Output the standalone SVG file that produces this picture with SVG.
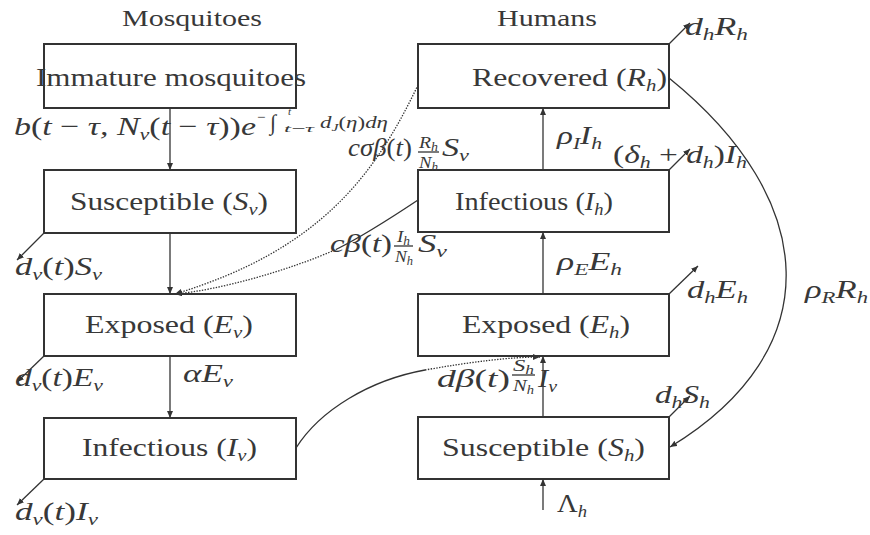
<svg xmlns="http://www.w3.org/2000/svg" width="870" height="535" viewBox="0 0 870 535">
<defs>
<marker id="ah" markerWidth="8" markerHeight="6" refX="7" refY="3" orient="auto" markerUnits="userSpaceOnUse"><path d="M0,0 L7,3 L0,6 z" fill="#333"/></marker>
</defs>
<style>
text{font-family:'Liberation Serif','Times New Roman','DejaVu Serif',serif;fill:#383838}
.box{fill:none;stroke:#333;stroke-width:2}
.lbl{font-size:26px}
.m{font-style:italic;font-size:26px}
.it{font-style:italic}
.r{font-style:normal}
.s{font-size:17px}
.c{fill:none;stroke:#333;stroke-width:1.3}
.dot{stroke-dasharray:1.4 1.4}
</style>
<rect width="870" height="535" fill="#fff"/>

<text class="lbl" x="122" y="26" style="font-size:24px" textLength="140" lengthAdjust="spacingAndGlyphs">Mosquitoes</text>
<text class="lbl" x="497" y="26" style="font-size:24px" textLength="100" lengthAdjust="spacingAndGlyphs">Humans</text>

<g id="immature">
<rect class="box" x="44" y="44" width="252" height="64"/>
<text class="lbl" x="36" y="86" textLength="270" lengthAdjust="spacingAndGlyphs">Immature mosquitoes</text>
</g>
<g id="Sv">
<rect class="box" x="44" y="170" width="252" height="63"/>
<text class="lbl" x="70" y="210" textLength="198" lengthAdjust="spacingAndGlyphs">Susceptible (<tspan class="it">S</tspan><tspan class="it s" dy="5">v</tspan><tspan dy="-5">)</tspan></text>
</g>
<g id="Ev">
<rect class="box" x="44" y="294" width="252" height="62"/>
<text class="lbl" x="85" y="333" textLength="168" lengthAdjust="spacingAndGlyphs">Exposed (<tspan class="it">E</tspan><tspan class="it s" dy="5">v</tspan><tspan dy="-5">)</tspan></text>
</g>
<g id="Iv">
<rect class="box" x="44" y="418" width="252" height="61"/>
<text class="lbl" x="82" y="456" textLength="175" lengthAdjust="spacingAndGlyphs">Infectious (<tspan class="it">I</tspan><tspan class="it s" dy="5">v</tspan><tspan dy="-5">)</tspan></text>
</g>
<g id="Rh">
<rect class="box" x="418" y="44" width="251" height="64"/>
<text class="lbl" x="472" y="86" textLength="195" lengthAdjust="spacingAndGlyphs">Recovered (<tspan class="it">R</tspan><tspan class="it s" dy="5">h</tspan><tspan dy="-5">)</tspan></text>
</g>
<g id="Ih">
<rect class="box" x="418" y="170" width="251" height="62"/>
<text class="lbl" x="455" y="210" textLength="158" lengthAdjust="spacingAndGlyphs">Infectious (<tspan class="it">I</tspan><tspan class="it s" dy="5">h</tspan><tspan dy="-5">)</tspan></text>
</g>
<g id="Eh">
<rect class="box" x="418" y="294" width="251" height="62"/>
<text class="lbl" x="462" y="333" textLength="168" lengthAdjust="spacingAndGlyphs">Exposed (<tspan class="it">E</tspan><tspan class="it s" dy="5">h</tspan><tspan dy="-5">)</tspan></text>
</g>
<g id="Sh">
<rect class="box" x="418" y="417" width="251" height="62"/>
<text class="lbl" x="442" y="456" textLength="203" lengthAdjust="spacingAndGlyphs">Susceptible (<tspan class="it">S</tspan><tspan class="it s" dy="5">h</tspan><tspan dy="-5">)</tspan></text>
</g>

<g id="connectors">
<path class="c" marker-end="url(#ah)" d="M170,108 V170"/>
<path class="c" marker-end="url(#ah)" d="M170,233 V294"/>
<path class="c" marker-end="url(#ah)" d="M170,356 V418"/>
<path class="c" marker-end="url(#ah)" d="M543,417 V356"/>
<path class="c" marker-end="url(#ah)" d="M543,294 V232"/>
<path class="c" marker-end="url(#ah)" d="M543,170 V108"/>
<path class="c" marker-end="url(#ah)" d="M543,510 V479"/>
<path class="c" marker-end="url(#ah)" d="M44,233 L17,260"/>
<path class="c" marker-end="url(#ah)" d="M44,356 L17,382"/>
<path class="c" marker-end="url(#ah)" d="M44,479 L17,505"/>
<path class="c" marker-end="url(#ah)" d="M669,44 L690,23"/>
<path class="c" marker-end="url(#ah)" d="M669,170 L690,149"/>
<path class="c" marker-end="url(#ah)" d="M669,294 L698,266"/>
<path class="c" marker-end="url(#ah)" d="M669,417 L690,396"/>
<path class="c" marker-end="url(#ah)" d="M669,78 C820,200 830,350 670,447"/>
<path class="c dot" marker-end="url(#ah)" d="M418,85 C375,175 320,250 175,294"/>
<path class="c" d="M418,200 C400,212 365,235 337,249"/>
<path class="c dot" marker-end="url(#ah)" d="M337,249 C290,270 220,290 175,294"/>
<path class="c" d="M296,448 C320,410 370,380 425,370"/>
<path class="c dot" marker-end="url(#ah)" d="M425,370 C470,362 510,357 540,357"/>
</g>

<g id="labels">
<text class="m" x="14" y="135" textLength="242" lengthAdjust="spacingAndGlyphs">b<tspan class="r">(</tspan>t <tspan class="r">−</tspan> τ, N<tspan class="s" dy="5">v</tspan><tspan class="r" dy="-5">(</tspan>t <tspan class="r">−</tspan> τ<tspan class="r">))</tspan>e</text>
<text class="m r" x="257" y="122" style="font-size:15px">−</text>
<text class="m r" x="270" y="130" style="font-size:22px">∫</text>
<text class="m" x="288" y="115" style="font-size:11px">t</text>
<text class="m" x="284" y="132" style="font-size:11px" textLength="30" lengthAdjust="spacingAndGlyphs">t<tspan class="r">−</tspan>τ</text>
<text class="m" x="320" y="128" style="font-size:16px" textLength="68" lengthAdjust="spacingAndGlyphs">d<tspan style="font-size:11px" dy="3">J</tspan><tspan class="r" dy="-3">(</tspan>η<tspan class="r">)</tspan>dη</text>

<text class="m" x="348" y="156" textLength="64" lengthAdjust="spacingAndGlyphs">cσβ<tspan class="r">(</tspan>t<tspan class="r">)</tspan></text>
<text class="m" x="419" y="148" style="font-size:17px" textLength="19" lengthAdjust="spacingAndGlyphs">R<tspan style="font-size:12px" dy="3">h</tspan></text>
<path class="c" d="M418,152 H439"/>
<text class="m" x="419" y="168" style="font-size:17px" textLength="19" lengthAdjust="spacingAndGlyphs">N<tspan style="font-size:12px" dy="3">h</tspan></text>
<text class="m" x="442" y="156" textLength="27" lengthAdjust="spacingAndGlyphs">S<tspan class="s" dy="5">v</tspan></text>

<text class="m" x="330" y="252" textLength="62" lengthAdjust="spacingAndGlyphs">cβ<tspan class="r">(</tspan>t<tspan class="r">)</tspan></text>
<text class="m" x="397" y="242" style="font-size:17px" textLength="13" lengthAdjust="spacingAndGlyphs">I<tspan style="font-size:12px" dy="3">h</tspan></text>
<path class="c" d="M394,246 H413"/>
<text class="m" x="395" y="262" style="font-size:17px" textLength="18" lengthAdjust="spacingAndGlyphs">N<tspan style="font-size:12px" dy="3">h</tspan></text>
<text class="m" x="418" y="252" textLength="29" lengthAdjust="spacingAndGlyphs">S<tspan class="s" dy="5">v</tspan></text>

<text class="m" x="437" y="387" textLength="73" lengthAdjust="spacingAndGlyphs">dβ<tspan class="r">(</tspan>t<tspan class="r">)</tspan></text>
<text class="m" x="513" y="371" style="font-size:17px" textLength="21" lengthAdjust="spacingAndGlyphs">S<tspan style="font-size:12px" dy="3">h</tspan></text>
<path class="c" d="M512,375 H535"/>
<text class="m" x="513" y="391" style="font-size:17px" textLength="21" lengthAdjust="spacingAndGlyphs">N<tspan style="font-size:12px" dy="3">h</tspan></text>
<text class="m" x="538" y="387" textLength="19" lengthAdjust="spacingAndGlyphs">I<tspan class="s" dy="5">v</tspan></text>

<text class="m" x="557" y="144" textLength="45" lengthAdjust="spacingAndGlyphs">ρ<tspan class="s" dy="5">I</tspan><tspan dy="-5">I</tspan><tspan class="s" dy="5">h</tspan></text>
<text class="m" x="613" y="163" textLength="134" lengthAdjust="spacingAndGlyphs"><tspan class="r">(</tspan>δ<tspan class="s" dy="5">h</tspan><tspan class="r" dy="-5"> + </tspan>d<tspan class="s" dy="5">h</tspan><tspan class="r" dy="-5">)</tspan>I<tspan class="s" dy="5">h</tspan></text>
<text class="m" x="685" y="35" textLength="63" lengthAdjust="spacingAndGlyphs">d<tspan class="s" dy="5">h</tspan><tspan dy="-5">R</tspan><tspan class="s" dy="5">h</tspan></text>
<text class="m" x="557" y="270" textLength="65" lengthAdjust="spacingAndGlyphs">ρ<tspan class="s" dy="5">E</tspan><tspan dy="-5">E</tspan><tspan class="s" dy="5">h</tspan></text>
<text class="m" x="687" y="298" textLength="61" lengthAdjust="spacingAndGlyphs">d<tspan class="s" dy="5">h</tspan><tspan dy="-5">E</tspan><tspan class="s" dy="5">h</tspan></text>
<text class="m" x="805" y="298" textLength="63" lengthAdjust="spacingAndGlyphs">ρ<tspan class="s" dy="5">R</tspan><tspan dy="-5">R</tspan><tspan class="s" dy="5">h</tspan></text>
<text class="m" x="183" y="382" textLength="50" lengthAdjust="spacingAndGlyphs">αE<tspan class="s" dy="5">v</tspan></text>
<text class="m" x="655" y="403" textLength="55" lengthAdjust="spacingAndGlyphs">d<tspan class="s" dy="5">h</tspan><tspan dy="-5">S</tspan><tspan class="s" dy="5">h</tspan></text>
<text class="m r" x="557" y="512" textLength="30" lengthAdjust="spacingAndGlyphs">Λ<tspan class="s it" dy="5">h</tspan></text>
<text class="m" x="15" y="275" textLength="87" lengthAdjust="spacingAndGlyphs">d<tspan class="s" dy="5">v</tspan><tspan class="r" dy="-5">(</tspan>t<tspan class="r">)</tspan>S<tspan class="s" dy="5">v</tspan></text>
<text class="m" x="15" y="386" textLength="88" lengthAdjust="spacingAndGlyphs">d<tspan class="s" dy="5">v</tspan><tspan class="r" dy="-5">(</tspan>t<tspan class="r">)</tspan>E<tspan class="s" dy="5">v</tspan></text>
<text class="m" x="15" y="520" textLength="83" lengthAdjust="spacingAndGlyphs">d<tspan class="s" dy="5">v</tspan><tspan class="r" dy="-5">(</tspan>t<tspan class="r">)</tspan>I<tspan class="s" dy="5">v</tspan></text>
</g>
</svg>
